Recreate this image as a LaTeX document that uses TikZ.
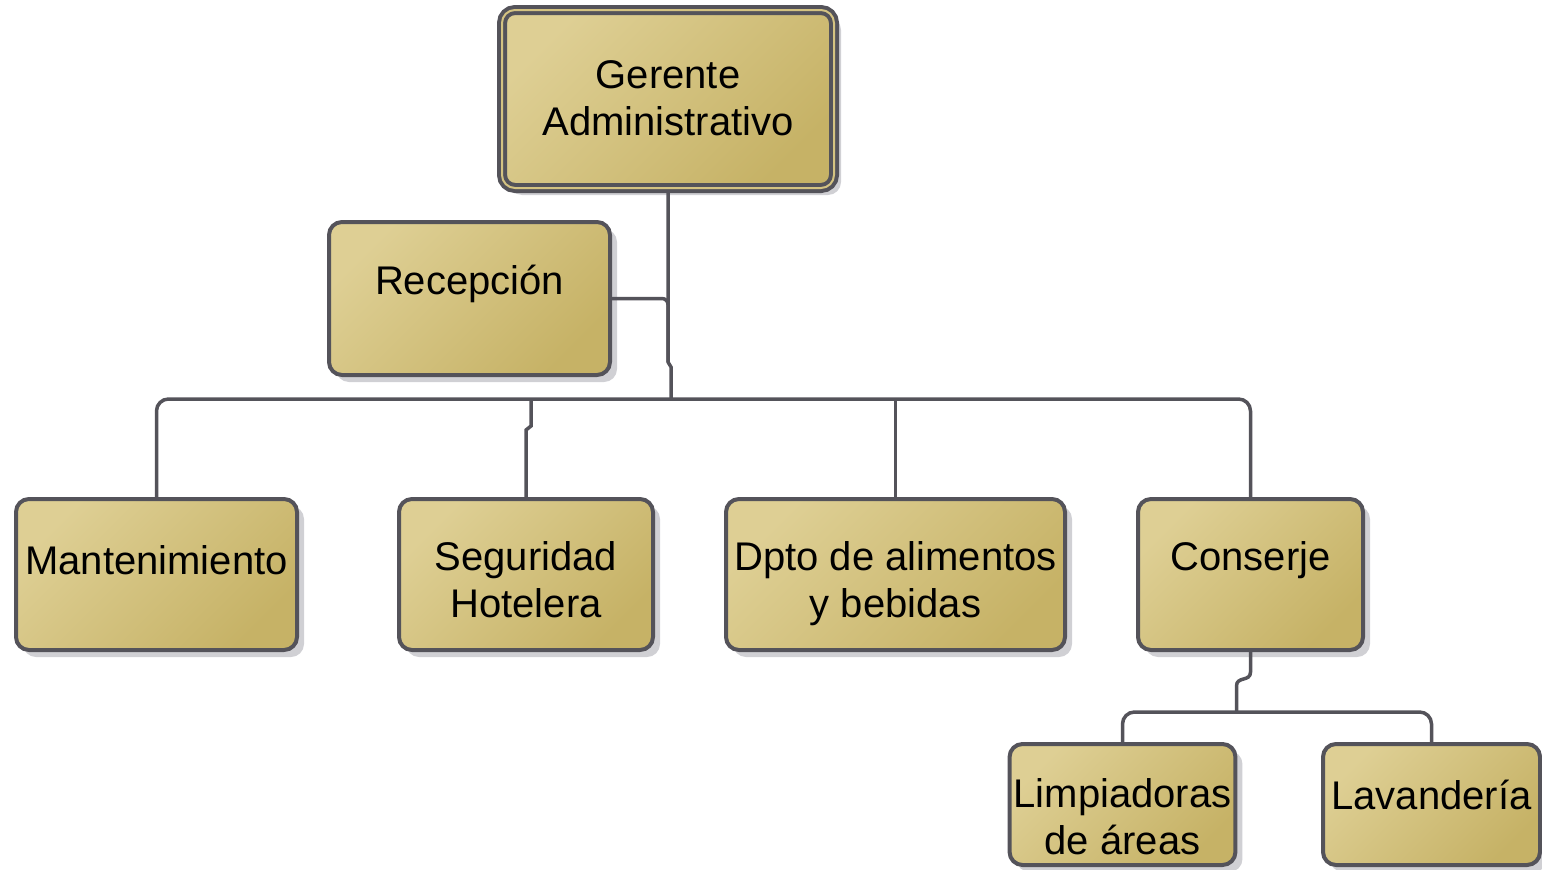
\documentclass[tikz,border=0pt]{standalone}
\usepackage{fontspec}
\setmainfont{Liberation Sans}
\usetikzlibrary{positioning,shadows}
\definecolor{goldA}{RGB}{222,207,148}
\definecolor{goldB}{RGB}{198,178,102}
\definecolor{wirec}{RGB}{84,83,90}
\definecolor{shadowc}{RGB}{208,208,212}

\begin{document}
\begin{tikzpicture}[x=1pt,y=-1pt,on grid,
    box/.style={rectangle,rounded corners=13pt,draw=wirec,line width=4pt,
      top color=goldA,bottom color=goldB,shading angle=45,
      drop shadow={shadow xshift=7pt,shadow yshift=-7pt,fill=shadowc,opacity=1},
      font=\fontsize{40pt}{47pt}\selectfont,align=center,inner sep=4pt,
      minimum height=151pt},
    lift/.style={text height=30pt,text depth=#1},
    lifttwo/.style={text height=100pt,text depth=#1},
    wire/.style={draw=wirec,line width=3.5pt}]
  \useasboundingbox (0,0) rectangle (1542,870);
  \node[box,double=goldA!60!goldB,double distance=2pt,lifttwo=27.4pt,minimum width=332pt,minimum height=178pt] (ger) at (668,99) {Gerente\\Administrativo};
  \node[box,lift=38.4pt,minimum width=281pt,minimum height=153pt] (rec) at (469.5,298.5) {Recepción};
  \node[box,lift=30.4pt,minimum width=281pt] (man) at (156.5,574.5) {Mantenimiento};
  \node[box,lifttwo=14.4pt,minimum width=254pt] (seg) [right=369.5pt of man] {Seguridad\\Hotelera};
  \node[box,lifttwo=14.4pt,minimum width=339pt] (dpto) [right=369.5pt of seg] {Dpto de alimentos\\y bebidas};
  \node[box,lift=38.4pt,minimum width=225pt] (con) [right=355pt of dpto] {Conserje};
  \node[box,lifttwo=0.4pt,minimum width=225pt,minimum height=121pt] (lim) at (1122.5,804.5) {Limpiadoras\\de áreas};
  \node[box,lift=20.4pt,minimum width=217pt,minimum height=121pt] (lav) [right=309pt of lim] {Lavandería};
  \coordinate (j1) at (668,362);
  \coordinate (bus) at (671,399);
  \coordinate (bus2) at (1236.5,712);
  \draw[wire] (ger.south) -- (j1) -- ++(3,5) -- (bus);
  \draw[wire,rounded corners=6pt] (rec.east) -| (j1);
  \draw[wire,rounded corners=12pt] (man.north) |- (bus) -| (con.north);
  \draw[wire] (seg.north) -- ++(0,-67) -- ++(5,-4) -- ++(0,-27);
  \draw[wire] (dpto.north) -- (dpto.north |- bus);
  \draw[wire] (con.south) -- ++(0,20) .. controls +(0,10) and +(0,-10) .. ++(-14,14) -- (bus2);
  \draw[wire,rounded corners=12pt] (lim.north) |- (bus2) -| (lav.north);
\end{tikzpicture}
\end{document}
